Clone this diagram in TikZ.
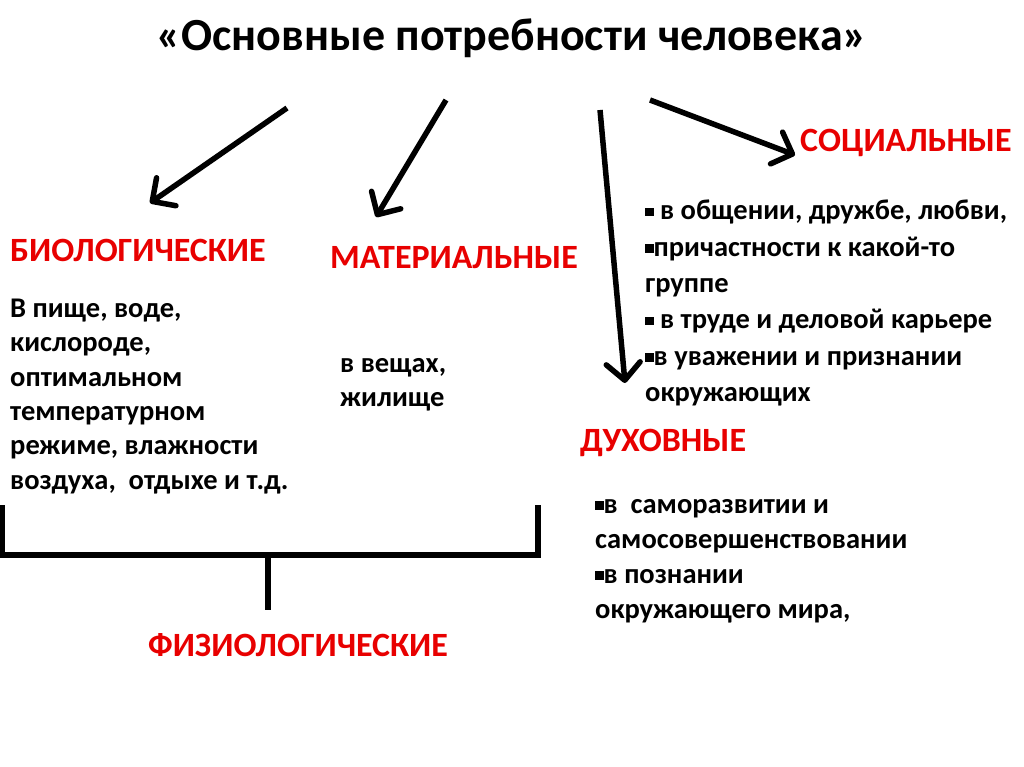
\documentclass[tikz,border=0pt]{standalone}
\usepackage{fontspec}
\setmainfont{Carlito}
\usetikzlibrary{arrows.meta}
\usepackage{xcolor}
\definecolor{headred}{RGB}{232,0,0}
\newcommand{\sqbul}{\rule[0.25ex]{8.5pt}{8.5pt}}

\begin{document}
\begin{tikzpicture}[x=1pt,y=-1pt,
    head/.style={text=headred,font=\fontsize{34}{36}\selectfont\bfseries,inner sep=0pt,anchor=west},
    body/.style={font=\fontsize{28.5}{34.3}\selectfont\bfseries,align=left,inner sep=0pt,anchor=north west},
    bigarrow/.style={line width=5.5pt,-{Straight Barb[length=17pt,width=34pt,round]}},
    bracket/.style={line width=6pt}]
    \useasboundingbox[fill=white] (0,0) rectangle (1024,767);

    % Title
    \node[font=\fontsize{46}{48}\selectfont\bfseries,inner sep=0pt] (title) at (512,38) {«Основные потребности человека»};

    % Headings
    \node[head] (bio) at (10,250) {БИОЛОГИЧЕСКИЕ};
    \node[head] (mat) at (330,258) {МАТЕРИАЛЬНЫЕ};
    \node[head] (soc) at (800,143) {СОЦИАЛЬНЫЕ};
    \node[head] (dux) at (580,443) {ДУХОВНЫЕ};
    \node[head] (fiz) at (148,645) {ФИЗИОЛОГИЧЕСКИЕ};

    % Text blocks
    \node[body] (biotxt) at (10,299) {В пище, воде,\\кислороде,\\оптимальном\\температурном\\режиме, влажности\\воздуха,~ отдыхе и т.д.};
    \node[body] (mattxt) at (340,358) {в вещах,\\жилище};
    \node[body,font=\fontsize{28.5}{36.3}\selectfont\bfseries] (soctxt) at (645,200)
        {\sqbul{} в общении, дружбе, любви,\\\sqbul причастности к какой-то\\группе\\\sqbul{} в труде и деловой карьере\\\sqbul в уважении и признании\\окружающих};
    \node[body,font=\fontsize{28.5}{35}\selectfont\bfseries] (duxtxt) at (595,499)
        {\sqbul в~ саморазвитии и\\самосовершенствовании\\\sqbul в познании\\окружающего мира,};

    % Arrows
    \coordinate (a1s) at (287,108);
    \coordinate (a1e) at (150,203);
    \coordinate (a2s) at (446,100);
    \coordinate (a2e) at (376,217);
    \coordinate (a3s) at (600,110);
    \coordinate (a3e) at (625,383);
    \coordinate (a4s) at (650,100);
    \coordinate (a4e) at (795,155);
    \draw[bigarrow] (a1s) -- (a1e);
    \draw[bigarrow] (a2s) -- (a2e);
    \draw[bigarrow] (a3s) -- (a3e);
    \draw[bigarrow] (a4s) -- (a4e);

    % Bracket
    \coordinate (brl) at (2,505);
    \coordinate (brr) at (538,505);
    \coordinate (brm) at (268,555);
    \coordinate (brs) at (268,610);
    \draw[bracket] (brl) |- (brr |- brm) -- (brr);
    \draw[bracket] (brm) -- (brs);
\end{tikzpicture}
\end{document}
